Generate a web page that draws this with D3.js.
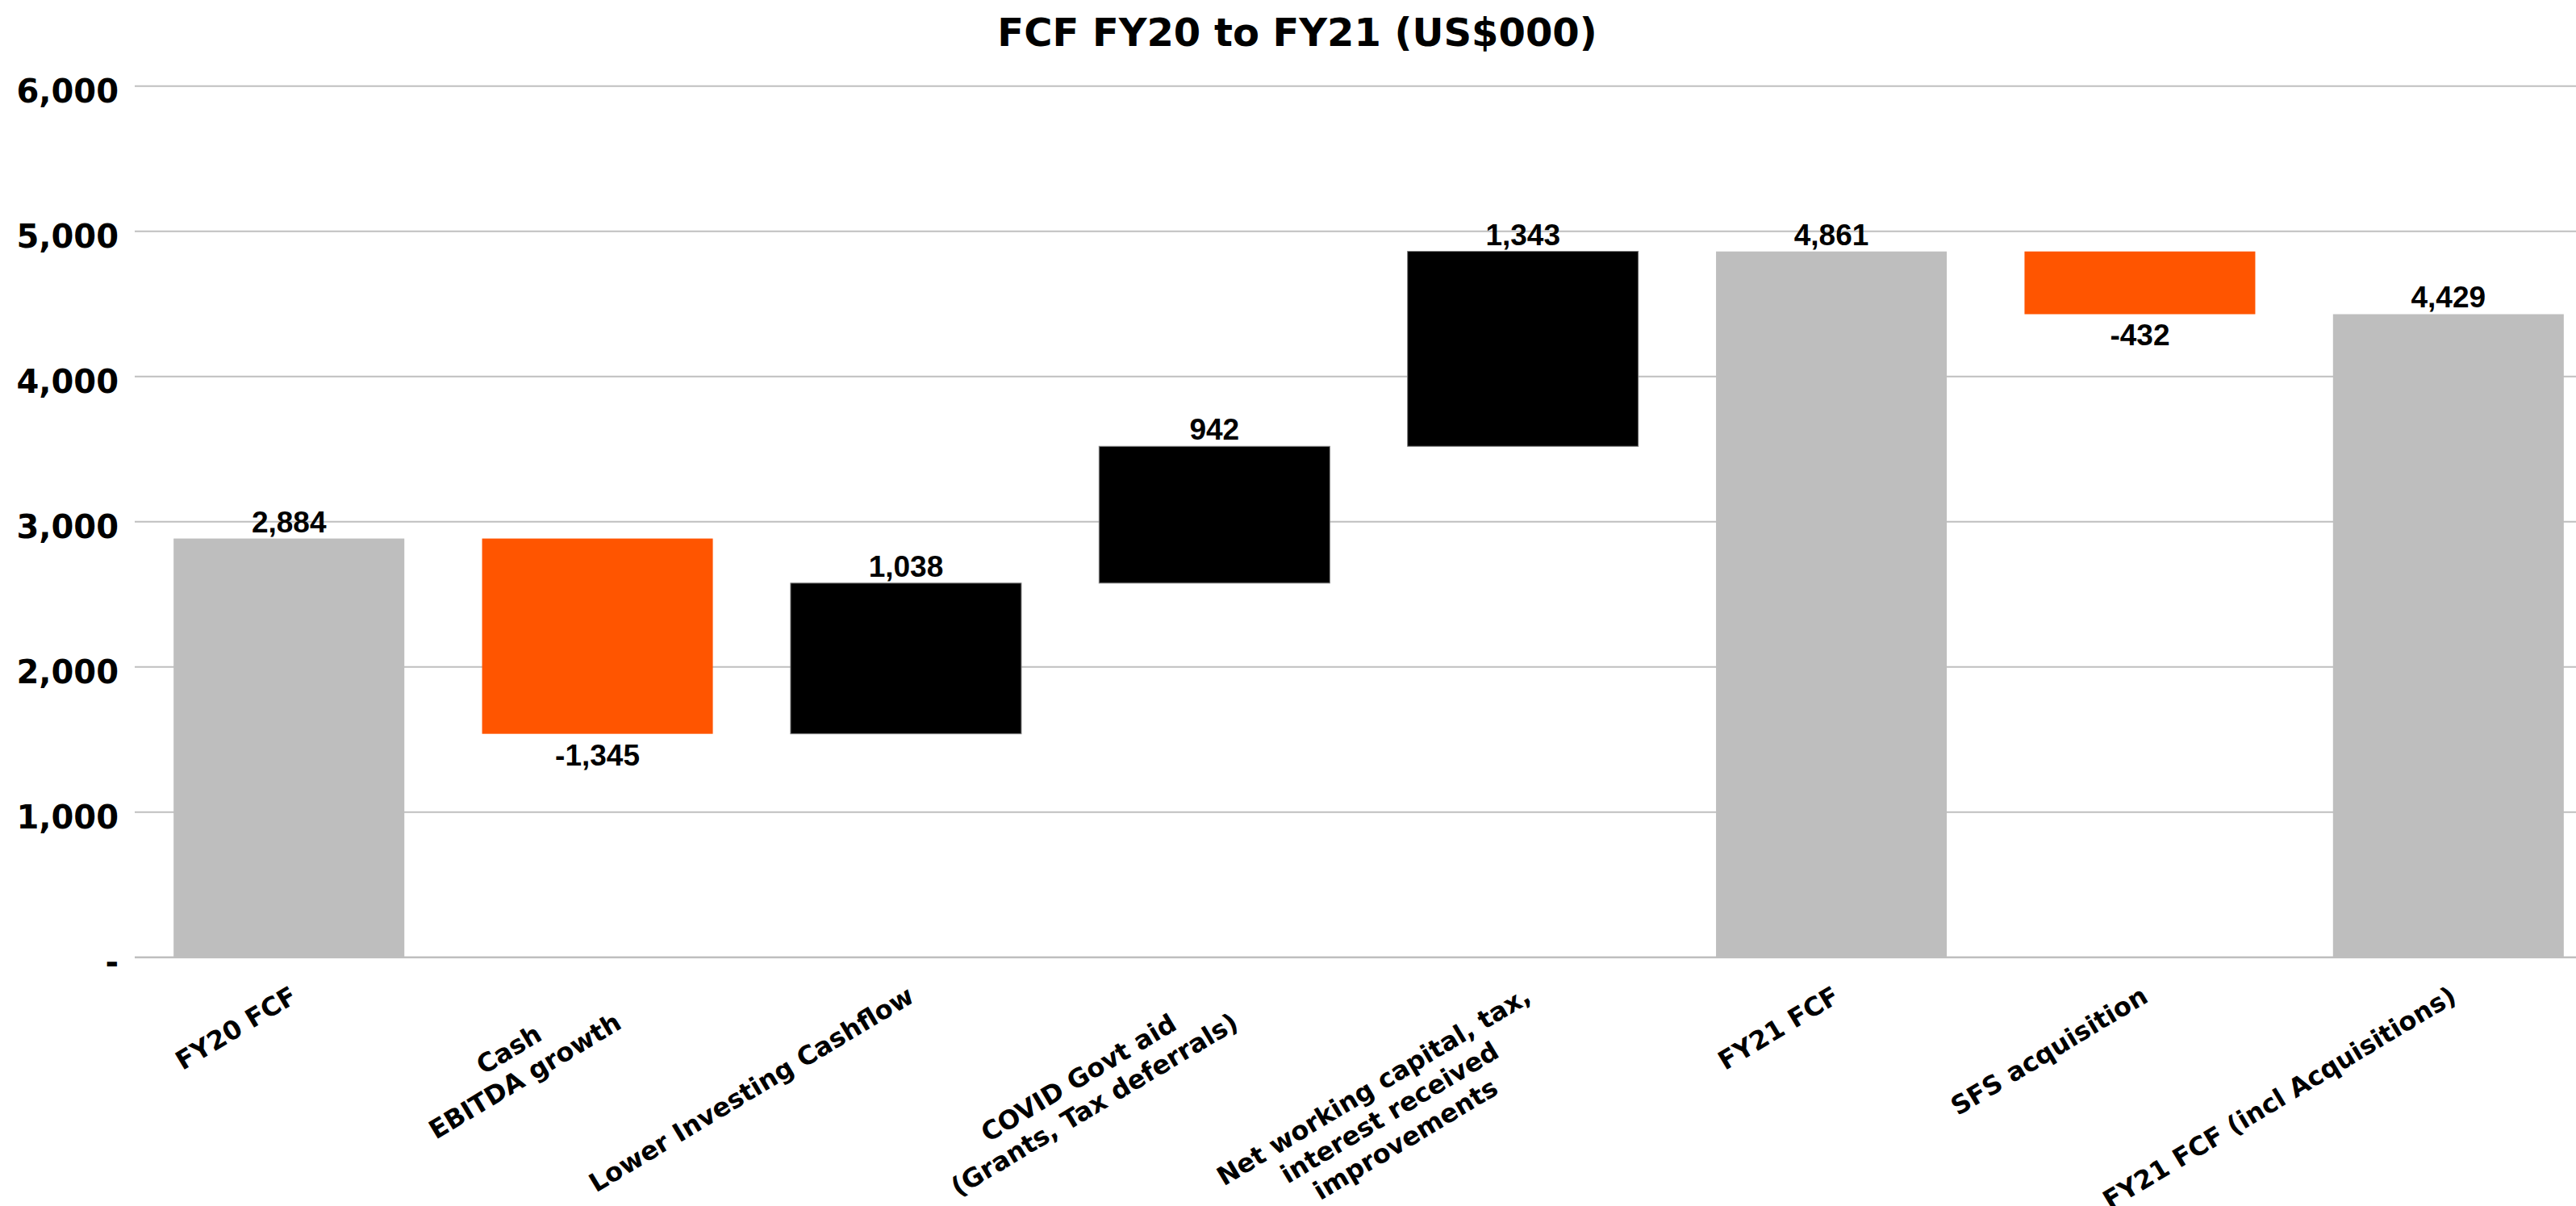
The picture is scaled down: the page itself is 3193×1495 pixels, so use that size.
<!DOCTYPE html>
<html>
<head>
<meta charset="utf-8">
<script src="https://cdnjs.cloudflare.com/ajax/libs/d3/7.8.5/d3.min.js"></script>
<style>
  html, body { margin: 0; padding: 0; background: #fff; }
  svg { display: block; }
</style>
</head>
<body>
<div id="chart"></div>
<script>
// Data
var categories = [
  "FY20 FCF",
  "Cash\nEBITDA growth",
  "Lower Investing Cashflow",
  "COVID Govt aid\n(Grants, Tax deferrals)",
  "Net working capital, tax,\ninterest received\nimprovements",
  "FY21 FCF",
  "SFS acquisition",
  "FY21 FCF (incl Acquisitions)"
];
var values = [2884, -1345, 1038, 942, 1343, 4861, -432, 4429];
var isTotal = [true, false, false, false, false, true, false, true];
var yTicks = [0, 1000, 2000, 3000, 4000, 5000, 6000];
var title = "FCF FY20 to FY21 (US$000)";

(function () {
  var GREY = '#bebebe',
      ORANGE = '#ff5500',
      BLACK = '#000000',
      GRID = '#bfbfbf',
      AXIS_FONT = '"DejaVu Sans", Verdana, sans-serif',
      VALUE_FONT = '"Liberation Sans", Arial, sans-serif';

  var W = 3193, H = 1495,
      plotLeft = 167, plotRight = 3226,
      plotTop = 106.7, plotBottom = 1186.7;

  var locale = d3.formatLocale({decimal: ".", thousands: ",", grouping: [3], currency: ["$", ""], minus: "-"}),
      fmt = locale.format(",");

  // Build waterfall steps
  var running = 0;
  var steps = values.map(function(v, i) {
    var d = {name: categories[i], value: v, total: isTotal[i]};
    if (d.total) {
      d.y0 = 0; d.y1 = v; running = v;
    } else {
      d.y0 = running; d.y1 = running + v; running = d.y1;
    }
    return d;
  });

  var x = d3.scaleBand().domain(categories).range([plotLeft, plotRight]).paddingInner(0.252).paddingOuter(0.126),
      y = d3.scaleLinear().domain([0, 6000]).range([plotBottom, plotTop]);

  var svg = d3.select("#chart").append("svg")
    .attr("width", W)
    .attr("height", H);

  // Title
  svg.append("text")
    .attr("x", 1608)
    .attr("y", 57)
    .attr("text-anchor", "middle")
    .style("font-family", AXIS_FONT)
    .style("font-weight", "bold")
    .style("font-size", "48px")
    .text(title);

  // Gridlines
  svg.append("g")
    .selectAll("line")
    .data(yTicks)
    .enter().append("line")
      .attr("x1", plotLeft)
      .attr("x2", plotRight)
      .attr("y1", function(d) { return y(d); })
      .attr("y2", function(d) { return y(d); })
      .attr("stroke", GRID)
      .attr("stroke-width", function(d) { return d === 0 ? 2.5 : 2; });

  // Y axis
  var yAxis = svg.append("g")
    .attr("transform", "translate(" + (plotLeft - 20) + ",0)")
    .call(d3.axisLeft(y).tickValues(yTicks).tickSize(0).tickPadding(0)
      .tickFormat(function(d) { return d === 0 ? "-" : fmt(d); }));
  yAxis.select(".domain").remove();
  yAxis.selectAll("text")
    .attr("dy", "0.5em")
    .style("font-family", AXIS_FONT)
    .style("font-weight", "bold")
    .style("font-size", "40px")
    .style("fill", "#000");

  // Bars
  svg.append("g")
    .selectAll("rect")
    .data(steps)
    .enter().append("rect")
      .attr("x", function(d) { return x(d.name); })
      .attr("width", x.bandwidth())
      .attr("y", function(d) { return y(Math.max(d.y0, d.y1)); })
      .attr("height", function(d) { return Math.abs(y(d.y0) - y(d.y1)); })
      .attr("fill", function(d) {
        if (d.total) { return GREY; }
        return d.value < 0 ? ORANGE : BLACK;
      })
      .attr("stroke", function(d) { return (!d.total && d.value > 0) ? '#7f7f7f' : 'none'; })
      .attr("stroke-width", 1);

  // Value labels
  svg.append("g")
    .selectAll("text")
    .data(steps)
    .enter().append("text")
      .attr("x", function(d) { return x(d.name) + x.bandwidth() / 2; })
      .attr("y", function(d) {
        if (d.value < 0) { return y(d.y1) + 39; }
        return y(Math.max(d.y0, d.y1)) - 8;
      })
      .attr("text-anchor", "middle")
      .style("font-family", VALUE_FONT)
      .style("font-weight", "bold")
      .style("font-size", "37px")
      .text(function(d) { return fmt(d.value); });

  // Category labels, rotated, lines centred, block's top-right at band centre
  var FS = 32, LH = FS * 1.2, CAP = FS * 0.73, ANGLE = -31;
  var labelG = svg.append("g");
  categories.forEach(function(c) {
    var lines = c.split("\n"),
        g = labelG.append("g")
          .attr("transform", "translate(" + (x(c) + x.bandwidth() / 2) + "," + (plotBottom + 34) + ") rotate(" + ANGLE + ")"),
        texts = lines.map(function(l, i) {
          return g.append("text")
            .attr("y", CAP + i * LH)
            .attr("text-anchor", "middle")
            .style("font-family", AXIS_FONT)
            .style("font-weight", "bold")
            .style("font-size", FS + "px")
            .text(l);
        }),
        maxW = d3.max(texts, function(t) { return t.node().getComputedTextLength(); });
    texts.forEach(function(t) { t.attr("x", -maxW / 2); });
  });
})();
</script>
</body>
</html>
